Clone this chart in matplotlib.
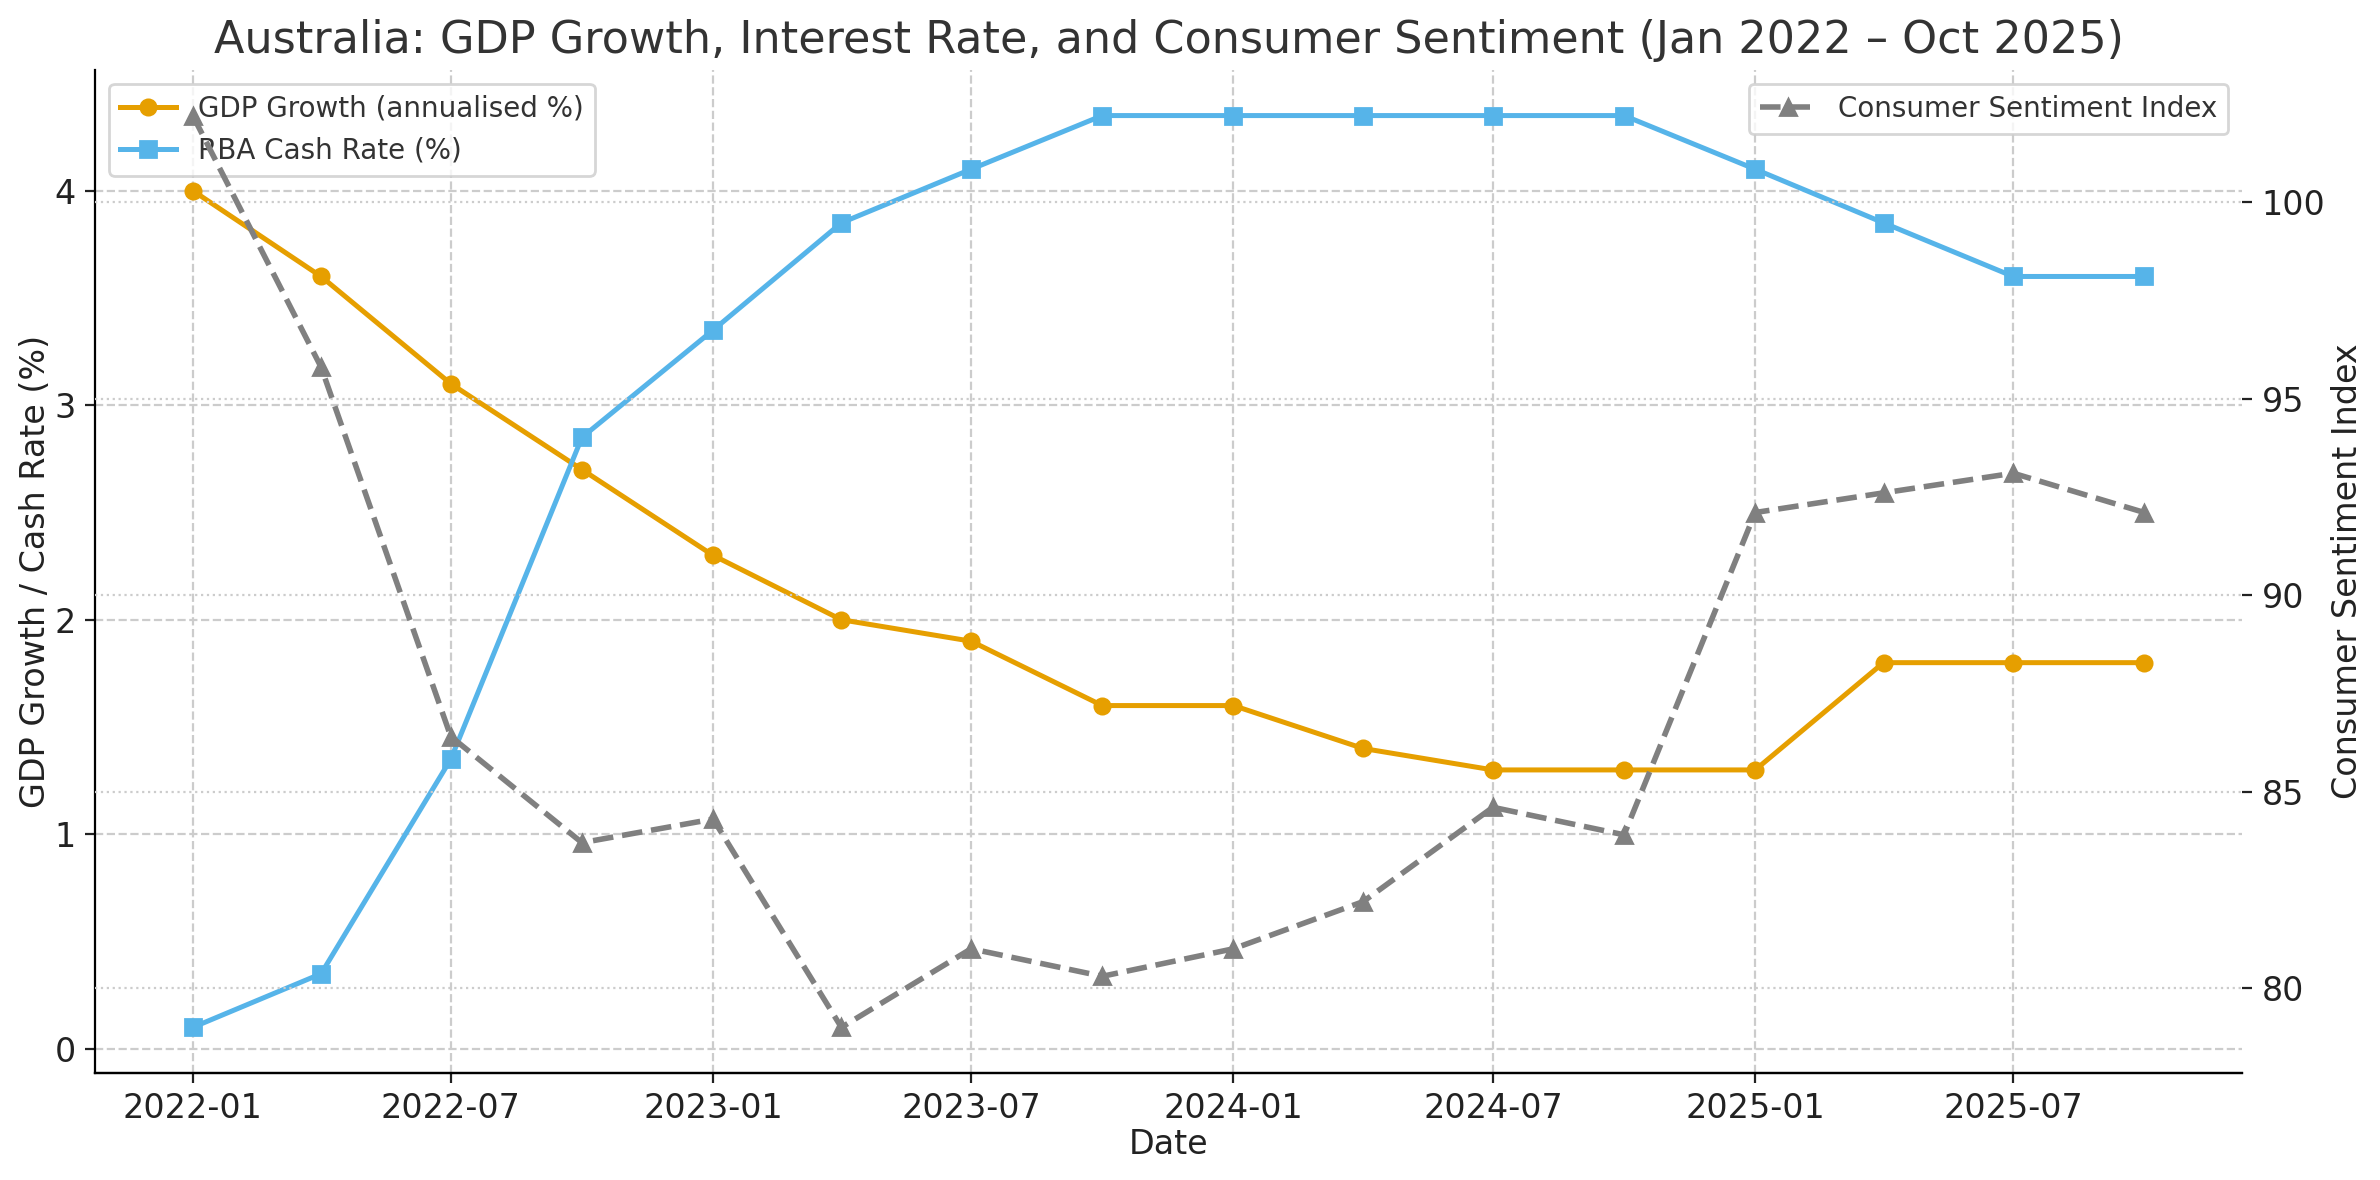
import numpy as np
import pandas as pd
import matplotlib
matplotlib.use('Agg')
import matplotlib.pyplot as plt
import matplotlib.dates as mdates

"(1) data read off the chart (quarterly, Jan 2022 - Oct 2025)"
dates = pd.date_range('2022-01-01', '2025-10-01', freq='QS')

gdp_growth = [4.0, 3.6, 3.1, 2.7, 2.3, 2.0, 1.9, 1.6,
              1.6, 1.4, 1.3, 1.3, 1.3, 1.8, 1.8, 1.8]

cash_rate = [0.10, 0.35, 1.35, 2.85, 3.35, 3.85, 4.10, 4.35,
             4.35, 4.35, 4.35, 4.35, 4.10, 3.85, 3.60, 3.60]

sentiment = [102.2, 95.8, 86.4, 83.7, 84.3, 79.0, 81.0, 80.3,
             81.0, 82.2, 84.6, 83.9, 92.1, 92.6, 93.1, 92.1]

"(2) figure"
fig = plt.figure(figsize=(11.9, 5.9), dpi=200)
ax1 = fig.add_subplot(111)
fig.subplots_adjust(left=0.040, right=0.942, bottom=0.0907, top=0.9407)

orange = '#E69F00'
blue = '#56B4E9'
grey = '#808080'

ax1.plot(dates, gdp_growth, color=orange, marker='o', linewidth=1.8,
         markersize=5.5, label='GDP Growth (annualised %)')
ax1.plot(dates, cash_rate, color=blue, marker='s', linewidth=1.8,
         markersize=5.5, label='RBA Cash Rate (%)')
ax1.set_xlabel('Date', fontsize=12, color='#222222', labelpad=1)
ax1.set_ylabel('GDP Growth / Cash Rate (%)', fontsize=12, color='#222222', labelpad=1)
ax1.grid(True, linestyle='--', color='#cccccc', linewidth=0.8)
ax1.tick_params(axis='both', labelsize=12, colors='#222222')
ax1.spines['top'].set_visible(False)
ax1.spines['right'].set_visible(False)

ax1.xaxis.set_major_locator(mdates.MonthLocator(bymonth=[1, 7]))
ax1.xaxis.set_major_formatter(mdates.DateFormatter('%Y-%m'))

# Second axis for consumer sentiment
ax2 = ax1.twinx()
ax2.plot(dates, sentiment, color=grey, marker='^', linestyle='--',
         linewidth=2.0, markersize=5.5, label='Consumer Sentiment Index')
ax2.set_ylabel('Consumer Sentiment Index', fontsize=12, color='#222222', labelpad=2)
ax2.grid(True, linestyle=':', color='#cccccc', linewidth=0.8)
ax2.tick_params(axis='y', labelsize=12, colors='#222222')
ax2.set_yticks([80, 85, 90, 95, 100])
for side in ['top', 'right', 'left']:
    ax2.spines[side].set_visible(False)

leg1 = ax1.legend(loc='upper left', fontsize=10, labelcolor='#333333')
leg2 = ax2.legend(loc='upper right', fontsize=10, labelcolor='#333333')

ax1.set_title('Australia: GDP Growth, Interest Rate, and Consumer Sentiment (Jan 2022 \u2013 Oct 2025)',
              fontsize=16, color='#333333')

plt.savefig('out.png', dpi=200)
